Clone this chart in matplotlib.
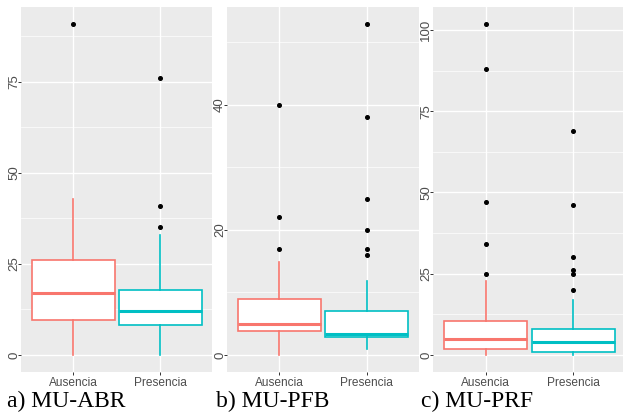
import matplotlib.pyplot as plt
from matplotlib.ticker import MultipleLocator

plt.rcParams['font.family'] = ['Liberation Sans', 'DejaVu Sans']

groups = ['Ausencia', 'Presencia']
colors = ['#F8766D', '#00BFC4']

# MU-ABR
abr_q1 = [9.6, 8.1]
abr_med = [16.9, 12.0]
abr_q3 = [26.2, 17.9]
abr_lo = [0, 0]
abr_hi = [42.8, 32.8]
abr_out = [[91], [76, 41, 35]]

# MU-PFB
pfb_q1 = [3.9, 2.85]
pfb_med = [4.9, 3.4]
pfb_q3 = [8.9, 7.1]
pfb_lo = [0, 0.9]
pfb_hi = [14.9, 11.9]
pfb_out = [[40, 22, 17], [53, 38, 25, 20, 17, 16]]

# MU-PRF
prf_q1 = [1.85, 0.9]
prf_med = [4.9, 3.9]
prf_q3 = [10.4, 7.9]
prf_lo = [0, 0]
prf_hi = [22.8, 16.8]
prf_out = [[102, 88, 47, 34, 25], [69, 46, 30, 26, 25, 20]]

panels = [
    ('a) MU-ABR', abr_q1, abr_med, abr_q3, abr_lo, abr_hi, abr_out, 25, 7),
    ('b) MU-PFB', pfb_q1, pfb_med, pfb_q3, pfb_lo, pfb_hi, pfb_out, 20, 216),
    ('c) MU-PRF', prf_q1, prf_med, prf_q3, prf_lo, prf_hi, prf_out, 25, 421),
]
# axes boxes in pixels: left, right
boxes = [(21, 212.5), (227, 419), (433.3, 626)]

W, H = 623, 413
fig = plt.figure(figsize=(W / 100, H / 100), dpi=100)

for (title, q1, med, q3, lo, hi, out, step, tx), (l, r) in zip(panels, boxes):
    ax = fig.add_axes([l / W, 1 - 371.5 / H, (r - l) / W, (371.5 - 7) / H])
    ax.set_facecolor('#EBEBEB')
    for s in ax.spines.values():
        s.set_visible(False)

    stats = []
    for i in range(2):
        stats.append(dict(q1=q1[i], med=med[i], q3=q3[i], whislo=lo[i],
                          whishi=hi[i], fliers=out[i], label=groups[i]))
    bp = ax.bxp(stats, positions=[1, 2], widths=0.95, patch_artist=True,
                showcaps=False, zorder=3,
                flierprops=dict(marker='o', markerfacecolor='black',
                                markeredgecolor='black', markersize=2.6))
    for i in range(2):
        bp['boxes'][i].set(facecolor='white', edgecolor=colors[i], linewidth=1.2)
        bp['medians'][i].set(color=colors[i], linewidth=2.2)
        for w in bp['whiskers'][2 * i:2 * i + 2]:
            w.set(color=colors[i], linewidth=1.2)

    ymin = min(lo)
    ymax = max(max(o) for o in out)
    pad = 0.05 * (ymax - ymin)
    ax.set_ylim(ymin - pad, ymax + pad)
    ax.set_xlim(0.4, 2.6)

    ax.yaxis.set_major_locator(MultipleLocator(step))
    ax.yaxis.set_minor_locator(MultipleLocator(step / 2))
    ax.grid(which='major', color='white', linewidth=1.0, zorder=0)
    ax.grid(which='minor', axis='y', color='white', linewidth=0.5, zorder=0)
    ax.set_axisbelow(True)

    ax.tick_params(which='major', length=2.5, width=0.7, color='#333333',
                   labelcolor='#4D4D4D', labelsize=8.6, pad=1.5)
    ax.tick_params(axis='y', labelsize=9.5, pad=0.3)
    ax.tick_params(which='minor', length=0)
    plt.setp(ax.get_yticklabels(), rotation=90, rotation_mode='anchor',
             ha='center', va='baseline')

    fig.text(tx / W, 1 - 407 / H, title, family='Liberation Serif',
             fontsize=17, color='black', ha='left', va='baseline')

fig.savefig('out.png', dpi=100)
